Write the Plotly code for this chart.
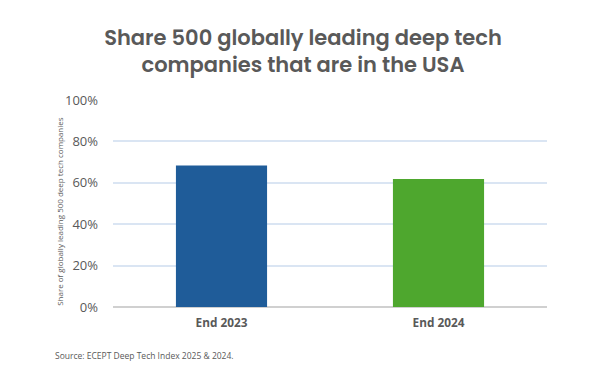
import plotly.graph_objects as go

categories = ["End 2023", "End 2024"]
values = [0.683, 0.618]
colors = ["#1f5c99", "#4ea72e"]
y_ticks = [0, 0.2, 0.4, 0.6, 0.8, 1.0]
y_tick_labels = ["0%", "20%", "40%", "60%", "80%", "100%"]
title_text = "Share 500 globally leading deep tech<br>companies that are in the USA"
y_title = "Share of globally leading 500 deep tech companies"
source_text = "Source: ECEPT Deep Tech Index 2025 & 2024."

fig = go.Figure(go.Bar(
    x=categories, y=values,
    marker=dict(color=colors, line=dict(width=0)),
    hoverinfo="skip",
))

fig.update_layout(
    width=590, height=366,
    margin=dict(l=105, r=51, t=92, b=67),
    paper_bgcolor="white", plot_bgcolor="white",
    bargap=0.58,
    showlegend=False,
    title=dict(text=title_text, x=0.5, xanchor="center", y=0.9, yanchor="top",
               font=dict(family="Poppins, Inter, sans-serif", size=21, color="#595959", weight=600)),
    font=dict(family="Open Sans, sans-serif", color="#595959"),
)
fig.update_yaxes(
    range=[0, 1.0], tickvals=y_ticks, ticktext=y_tick_labels,
    showgrid=True, gridcolor="#dae5f3", gridwidth=1.5,
    zeroline=True, zerolinecolor="#d0d0d0", zerolinewidth=1.5,
    tickfont=dict(size=13, color="#595959", family="Open Sans, sans-serif"),
    ticklabelstandoff=14,
    showline=False, fixedrange=True, automargin=False,
)
fig.update_xaxes(
    tickfont=dict(size=11.8, color="#595959", family="Open Sans, sans-serif", weight="bold"),
    ticklabelstandoff=7,
    showline=False, ticks="", fixedrange=True, automargin=False,
)
fig.add_annotation(
    text=y_title, xref="paper", yref="paper", x=-0.122, y=0.46,
    textangle=-90, showarrow=False, font=dict(size=8, color="#595959"),
    xanchor="center", yanchor="middle",
)
fig.add_annotation(
    text=source_text, xref="paper", yref="paper", x=-0.139, y=-0.232,
    xanchor="left", yanchor="middle", showarrow=False,
    font=dict(size=8.5, color="#595959"),
)
fig.write_html("out.html")
